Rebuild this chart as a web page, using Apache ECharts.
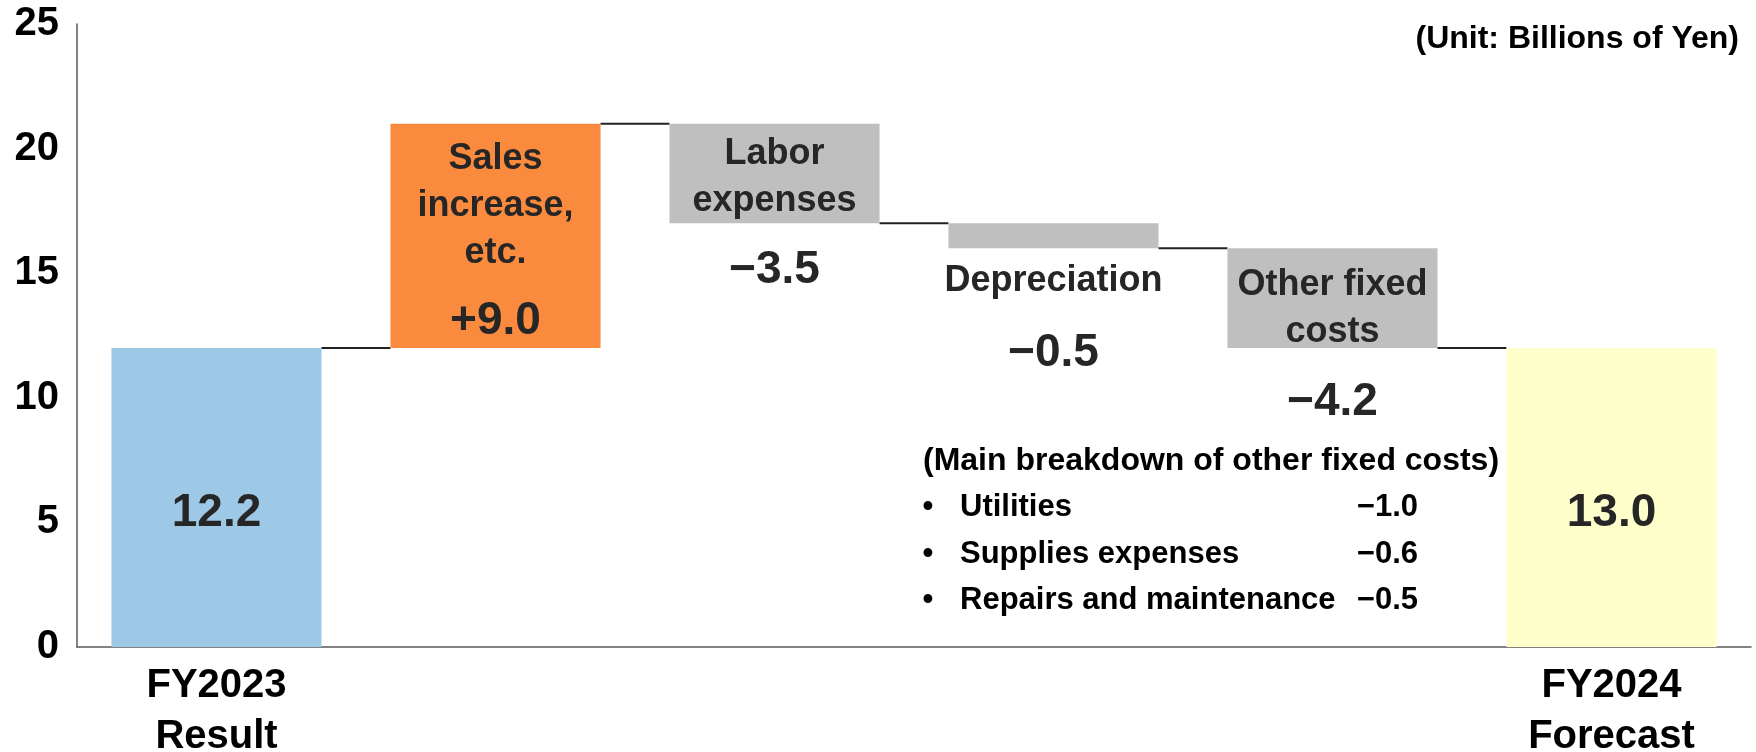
<!DOCTYPE html>
<html>
<head>
<meta charset="utf-8">
<script src="https://cdn.jsdelivr.net/npm/echarts@6/dist/echarts.min.js"></script>
<style>
html,body{margin:0;padding:0;background:#fff;overflow:hidden;}
#chart{width:1756px;height:752px;}
</style>
</head>
<body>
<div id="chart"></div>
<script>
// ---- data ----
const categories = ['FY2023 Result', 'Sales increase, etc.', 'Labor expenses', 'Depreciation', 'Other fixed costs', 'FY2024 Forecast'];
const axisLabels = ['FY2023\nResult', '', '', '', '', 'FY2024\nForecast'];
const segmentNames = ['', 'Sales\nincrease,\netc.', 'Labor\nexpenses', 'Depreciation', 'Other fixed\ncosts', ''];
// drawn bar geometry (schematic heights)
const barBottom = [0, 12.0, 17.0, 16.0, 12.0, 0];
const barTop = [12.0, 21.0, 21.0, 17.0, 16.0, 12.0];
const barKind = ['total', 'up', 'down', 'down', 'down', 'total'];
// printed values
const valueLabels = ['12.2', '+9.0', '\u22123.5', '\u22120.5', '\u22124.2', '13.0'];
const yTicks = [0, 5, 10, 15, 20, 25];
const unitText = '(Unit: Billions of Yen)';
const breakdownTitle = '(Main breakdown of other fixed costs)';
const breakdownItems = ['Utilities', 'Supplies expenses', 'Repairs and maintenance'];
const breakdownValues = ['\u22121.0', '\u22120.6', '\u22120.5'];

// ---- styles ----
const FONT = '"Liberation Sans", Arial, Helvetica, sans-serif';
const fillColors = {total0: '#9DC8E6', up: '#F98A3E', down: '#BFBFBF', total5: '#FFFFCC'};
const TXT = '#262626';

function fillFor(i) {
  if (barKind[i] === 'total') return i === 0 ? fillColors.total0 : fillColors.total5;
  return fillColors[barKind[i]];
}
function endLevel(i) {
  return barKind[i] === 'down' ? barBottom[i] : barTop[i];
}

const chart = echarts.init(document.getElementById('chart'));
const data = categories.map((c, i) => [i, barBottom[i], barTop[i]]);
const BAR_RATIO = 0.753;

function renderItem(params, api) {
  const i = api.value(0);
  const b = api.coord([i, api.value(1)]);
  const t = api.coord([i, api.value(2)]);
  const band = api.size([1, 0])[0];
  const w = band * BAR_RATIO;
  const cx = b[0];
  const x0 = cx - w / 2;
  const yTop = t[1], yBot = b[1];
  const children = [{
    type: 'rect',
    shape: {x: x0, y: yTop, width: w, height: yBot - yTop},
    style: {fill: fillFor(i)}
  }];
  if (i < categories.length - 1) {
    const ly = api.coord([i, endLevel(i)])[1];
    const nx = api.coord([i + 1, 0])[0];
    children.push({
      type: 'line',
      shape: {x1: x0 + w, y1: ly, x2: nx - w / 2, y2: ly},
      style: {stroke: '#222', lineWidth: 2}
    });
  }
  const nameFont = 'bold 36px ' + FONT;
  const valFont = 'bold 46px ' + FONT;
  let nameY = null, valY;
  const LH = 47;
  if (i === 0 || i === 5) {
    valY = (yTop + yBot) / 2 + 16;
  } else if (i === 1) {
    nameY = yTop + 35; valY = yBot - 27;
  } else if (i === 2) {
    nameY = yTop + 30; valY = yBot + 47;
  } else if (i === 3) {
    nameY = yBot + 33; valY = yBot + 105;
  } else {
    nameY = yTop + 37; valY = yBot + 54;
  }
  if (nameY !== null) {
    children.push({
      type: 'text',
      style: {
        text: segmentNames[i], x: cx, y: nameY - LH / 2,
        align: 'center', verticalAlign: 'top', lineHeight: LH,
        font: nameFont, fill: TXT
      }
    });
  }
  children.push({
    type: 'text',
    style: {
      text: valueLabels[i], x: cx, y: valY,
      align: 'center', verticalAlign: 'middle',
      font: valFont, fill: TXT
    }
  });
  return {type: 'group', children: children};
}

const bFont = 'bold 31px ' + FONT;
const graphics = [{
  type: 'text', right: 17, top: 23,
  style: {text: unitText, font: 'bold 32px ' + FONT, fill: '#000'}
}, {
  type: 'text', left: 923, top: 460 - 15,
  style: {text: breakdownTitle, font: 'bold 32px ' + FONT, fill: '#000'}
}];
const rowY = [507, 554, 600];
breakdownItems.forEach((it, k) => {
  graphics.push({type: 'text', x: 928, y: rowY[k], style: {text: '\u2022', font: bFont, fill: '#000', align: 'center', verticalAlign: 'middle'}});
  graphics.push({type: 'text', x: 960, y: rowY[k], style: {text: it, font: bFont, fill: '#000', align: 'left', verticalAlign: 'middle'}});
  graphics.push({type: 'text', x: 1418, y: rowY[k], style: {text: breakdownValues[k], font: bFont, fill: '#000', align: 'right', verticalAlign: 'middle'}});
});

chart.setOption({
  animation: false,
  backgroundColor: '#fff',
  grid: {left: 77, right: 5, top: 24, bottom: 105, containLabel: false, outerBoundsMode: 'none'},
  xAxis: {
    type: 'category',
    data: axisLabels,
    axisLine: {show: true, lineStyle: {color: '#595959', width: 1.5}},
    axisTick: {show: false},
    axisLabel: {
      interval: 0, margin: 13, color: '#000', fontFamily: FONT,
      fontWeight: 'bold', fontSize: 40, lineHeight: 51
    },
    splitLine: {show: false}
  },
  yAxis: {
    type: 'value', min: yTicks[0], max: yTicks[yTicks.length - 1], interval: 5,
    axisLine: {show: true, lineStyle: {color: '#595959', width: 1.5}},
    axisTick: {show: false},
    splitLine: {show: false},
    axisLabel: {margin: 18, color: '#000', fontFamily: FONT, fontWeight: 'bold', fontSize: 40, padding: [6, 0, 0, 0]}
  },
  series: [{
    type: 'custom',
    renderItem: renderItem,
    data: data,
    encode: {x: 0, y: [1, 2]},
    clip: false,
    z: 3
  }],
  graphic: graphics
});
</script>
</body>
</html>
